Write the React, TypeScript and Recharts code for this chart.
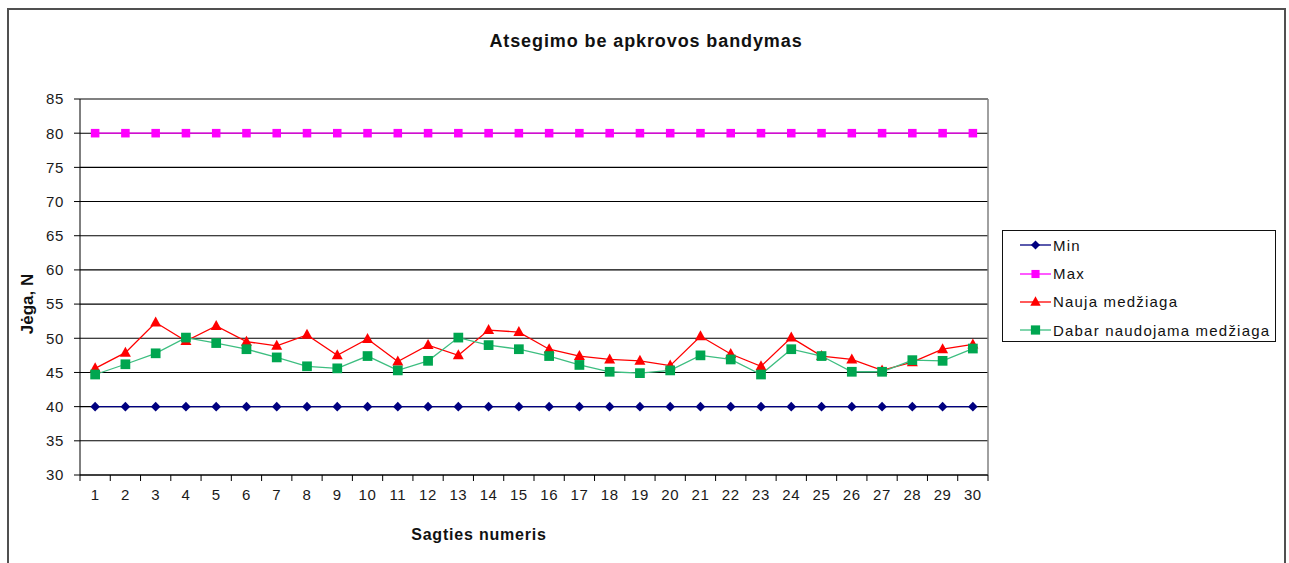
import React from "react";
import { CartesianGrid, Line, LineChart, ReferenceLine, XAxis, YAxis } from "recharts";

// Sagties numeris 1..30
const sagtys = [
  1, 2, 3, 4, 5, 6, 7, 8, 9, 10, 11, 12, 13, 14, 15, 16, 17, 18, 19, 20, 21, 22,
  23, 24, 25, 26, 27, 28, 29, 30,
];

const minRiba = [
  40, 40, 40, 40, 40, 40, 40, 40, 40, 40, 40, 40, 40, 40, 40, 40, 40, 40, 40, 40,
  40, 40, 40, 40, 40, 40, 40, 40, 40, 40,
];

const maxRiba = [
  80, 80, 80, 80, 80, 80, 80, 80, 80, 80, 80, 80, 80, 80, 80, 80, 80, 80, 80, 80,
  80, 80, 80, 80, 80, 80, 80, 80, 80, 80,
];

const naujaMedziaga = [
  45.6, 47.9, 52.3, 49.6, 51.8, 49.5, 48.9, 50.5, 47.5, 49.9, 46.6, 49.0, 47.5,
  51.2, 50.9, 48.4, 47.4, 46.9, 46.7, 46.0, 50.3, 47.7, 45.9, 50.1, 47.4, 46.9,
  45.3, 46.5, 48.4, 49.1,
];

const dabarNaudojama = [
  44.7, 46.2, 47.8, 50.1, 49.3, 48.4, 47.2, 45.9, 45.6, 47.4, 45.3, 46.7, 50.1,
  49.0, 48.4, 47.4, 46.1, 45.1, 44.9, 45.3, 47.5, 46.9, 44.7, 48.4, 47.4, 45.1,
  45.1, 46.8, 46.7, 48.5,
];

const yTicks = [30, 35, 40, 45, 50, 55, 60, 65, 70, 75, 80, 85];

const NAVY = "#000080";
const MAGENTA = "#FF00FF";
const RED = "#FF0000";
const GREEN = "#00A650";
const GREEN_LINE = "#3DBE80";

const data = sagtys.map((nr, i) => ({
  nr,
  min: minRiba[i],
  max: maxRiba[i],
  nauja: naujaMedziaga[i],
  dabar: dabarNaudojama[i],
}));

// tick marks sit between categories, like the Excel axis
const skirtukai = [...sagtys.map((n) => n - 0.5), sagtys[sagtys.length - 1] + 0.5];
const domainX: [number, number] = [skirtukai[0], skirtukai[skirtukai.length - 1]];

const font = "'Liberation Sans', Arial, sans-serif";

// label drawn half a category to the right of each boundary tick
function XTick(props: any) {
  const { x, y, payload, index, width } = props;
  if (index >= sagtys.length) return null;
  const half = width / sagtys.length / 2;
  return (
    <text
      x={x + half}
      y={y}
      dy="0.71em"
      textAnchor="middle"
      fill="#1a1a1a"
      fontSize={15}
      fontFamily={font}
      letterSpacing={0.6}
    >
      {payload.value + 0.5}
    </text>
  );
}

type Shape = "diamond" | "square" | "triangle";

function Marker({ cx, cy, shape, fill, size = 1 }: { cx: number; cy: number; shape: Shape; fill: string; size?: number }) {
  if (shape === "diamond") {
    const r = 4.8 * size;
    return <path d={`M${cx},${cy - r} L${cx + r},${cy} L${cx},${cy + r} L${cx - r},${cy} Z`} fill={fill} />;
  }
  if (shape === "triangle") {
    const w = 5.5 * size;
    return <path d={`M${cx},${cy - 6 * size} L${cx + w},${cy + 4 * size} L${cx - w},${cy + 4 * size} Z`} fill={fill} />;
  }
  const s = 4.5 * size;
  return <rect x={cx - s} y={cy - s} width={s * 2} height={s * 2} fill={fill} />;
}

const series = [
  { key: "min", name: "Min", line: NAVY, fill: NAVY, shape: "diamond" as Shape, size: 1 },
  { key: "max", name: "Max", line: MAGENTA, fill: MAGENTA, shape: "square" as Shape, size: 0.95 },
  { key: "nauja", name: "Nauja medžiaga", line: RED, fill: RED, shape: "triangle" as Shape, size: 1 },
  { key: "dabar", name: "Dabar naudojama medžiaga", line: GREEN_LINE, fill: GREEN, shape: "square" as Shape, size: 1.08 },
];

export default function App() {
  return (
    <div
      style={{
        position: "fixed",
        left: 0,
        top: 0,
        width: 1289,
        height: 563,
        background: "#fff",
        overflow: "hidden",
        fontFamily: font,
      }}
    >
      <div
        style={{
          position: "absolute",
          left: 7,
          top: 8,
          width: 1275,
          height: 620,
          border: "2px solid #505050",
        }}
      />

      <div
        style={{
          position: "absolute",
          left: 346,
          top: 30,
          width: 600,
          textAlign: "center",
          fontSize: 18,
          fontWeight: "bold",
          letterSpacing: 0.9,
          color: "#111",
          lineHeight: "22px",
        }}
      >
        Atsegimo be apkrovos bandymas
      </div>

      <div
        style={{
          position: "absolute",
          left: 329,
          top: 525,
          width: 300,
          textAlign: "center",
          fontSize: 16,
          fontWeight: "bold",
          letterSpacing: 0.8,
          color: "#111",
          lineHeight: "20px",
        }}
      >
        Sagties numeris
      </div>

      <div
        style={{
          position: "absolute",
          left: 28,
          top: 304,
          transform: "translate(-50%, -50%) rotate(-90deg)",
          fontSize: 17,
          fontWeight: "bold",
          color: "#111",
          whiteSpace: "nowrap",
          lineHeight: "20px",
        }}
      >
        Jėga, N
      </div>

      <div style={{ position: "absolute", left: 0, top: 0 }}>
        <LineChart width={1289} height={563} data={data} margin={{ top: 99, right: 301, bottom: 58, left: 40 }}>
          <CartesianGrid vertical={false} stroke="#000" strokeWidth={1.1} />
          <XAxis
            dataKey="nr"
            type="number"
            domain={domainX}
            ticks={skirtukai}
            interval={0}
            height={30}
            stroke="#000"
            tickSize={6}
            tickMargin={8}
            tick={<XTick />}
          />
          <YAxis
            domain={[30, 85]}
            ticks={yTicks}
            interval={0}
            width={40}
            stroke="#000"
            tickSize={6}
            tickMargin={10}
            tick={{ fill: "#1a1a1a", fontSize: 15, fontFamily: font, letterSpacing: 0.6 }}
          />
          {/* plot area frame on top and right */}
          <ReferenceLine y={85} stroke="#808080" strokeWidth={1.5} />
          <ReferenceLine x={domainX[1]} stroke="#808080" strokeWidth={1.5} />
          {series.map((s) => (
            <Line
              key={s.key}
              dataKey={s.key}
              name={s.name}
              type="linear"
              stroke={s.line}
              strokeWidth={1.3}
              isAnimationActive={false}
              activeDot={false}
              dot={(p: any) => (
                <Marker key={`${s.key}-${p.index}`} cx={p.cx} cy={p.cy} shape={s.shape} fill={s.fill} size={s.size} />
              )}
            />
          ))}
        </LineChart>
      </div>

      {/* legend */}
      <div
        style={{
          position: "absolute",
          left: 1002,
          top: 230,
          width: 272,
          height: 110,
          border: "1.5px solid #111",
          background: "#fff",
        }}
      >
        {series.map((s) => (
          <div key={s.key} style={{ display: "flex", alignItems: "center", height: 28.4 }}>
            <svg width={50} height={14} style={{ flex: "none" }}>
              <line x1={17} x2={48} y1={7} y2={7} stroke={s.line} strokeWidth={1.3} />
              <Marker cx={32.5} cy={7} shape={s.shape} fill={s.fill} size={s.size * 0.95} />
            </svg>
            <span style={{ fontSize: 15, letterSpacing: 1.2, color: "#111", whiteSpace: "nowrap" }}>{s.name}</span>
          </div>
        ))}
      </div>
    </div>
  );
}
